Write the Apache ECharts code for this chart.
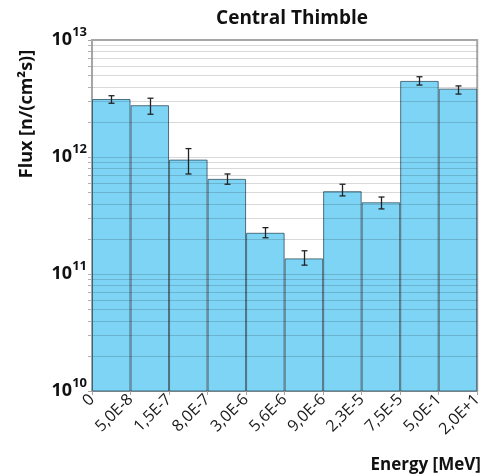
<!DOCTYPE html>
<html>
<head>
<meta charset="utf-8">
<script src="https://cdn.jsdelivr.net/npm/echarts@6/dist/echarts.min.js"></script>
<style>
html,body{margin:0;padding:0;background:#fff;}
#chart{width:485px;height:476px;}
</style>
</head>
<body>
<div id="chart"></div>
<script>
// Data
var binEdges = ['0', '5,0E-8', '1,5E-7', '8,0E-7', '3,0E-6', '5,6E-6', '9,0E-6', '2,3E-5', '7,5E-5', '5,0E-1', '2,0E+1'];
var binIndex = ['b1', 'b2', 'b3', 'b4', 'b5', 'b6', 'b7', 'b8', 'b9', 'b10'];
var flux = [3.13e12, 2.77e12, 9.5e11, 6.5e11, 2.25e11, 1.36e11, 5.1e11, 4.1e11, 4.47e12, 3.84e12];
var fluxLow = [2.88e12, 2.32e12, 7.16e11, 5.85e11, 2.04e11, 1.19e11, 4.65e11, 3.6e11, 4.12e12, 3.45e12];
var fluxHigh = [3.34e12, 3.18e12, 1.18e12, 7.16e11, 2.49e11, 1.58e11, 5.85e11, 4.55e11, 4.85e12, 4.05e12];
var yMin = 1e10, yMax = 1e13;
var gridValues = [];
for (var d = 10; d < 13; d++) {
  for (var m = 1; m <= 9; m++) {
    if (m === 1 && d === 10) continue;
    gridValues.push(m * Math.pow(10, d));
  }
}

var chart = echarts.init(document.getElementById('chart'), null, {renderer: 'canvas'});
var FONT = '"Open Sans", "DejaVu Sans", sans-serif';

var option = {
  animation: false,
  backgroundColor: '#fff',
  title: {
    text: 'Central Thimble',
    left: 287, top: 4, textAlign: 'center',
    textStyle: {fontFamily: FONT, fontSize: 19, fontWeight: 'bold', color: '#111'}
  },
  grid: {
    left: 92, right: 7, top: 40, bottom: 85,
    show: true, borderColor: '#a6a6a6', borderWidth: 2, backgroundColor: 'transparent'
  },
  xAxis: [
    {
      type: 'category', data: binIndex, gridIndex: 0,
      axisLine: {show: false}, axisTick: {show: false}, axisLabel: {show: false},
      splitLine: {show: false}
    },
    {
      type: 'value', min: 0, max: 10, interval: 1, gridIndex: 0, position: 'bottom',
      axisLine: {show: true, lineStyle: {color: '#a6a6a6', width: 2}},
      axisTick: {show: true, length: 4, lineStyle: {color: '#a6a6a6'}},
      splitLine: {show: false},
      axisLabel: {
        rotate: 45, margin: 6, fontFamily: FONT, fontSize: 16, color: '#1a1a1a',
        formatter: function (v) { return binEdges[Math.round(v)]; }
      }
    }
  ],
  yAxis: {
    type: 'log', logBase: 10, min: yMin, max: yMax,
    axisLine: {show: true, lineStyle: {color: '#a6a6a6', width: 2}},
    axisTick: {show: true, length: 4, lineStyle: {color: '#a6a6a6'}},
    splitLine: {show: false},
    axisLabel: {
      margin: 5,
      formatter: function (v) {
        var e = Math.round(Math.log(v) / Math.LN10);
        return '{b|10}{s|' + e + '}';
      },
      rich: {
        b: {fontFamily: FONT, fontSize: 18, fontWeight: 'bold', color: '#111'},
        s: {fontFamily: FONT, fontSize: 13, fontWeight: 'bold', color: '#111', padding: [0, 0, 16, 0]}
      }
    }
  },
  graphic: [
    {
      type: 'text', x: 27, y: 114, rotation: Math.PI / 2,
      style: {text: 'Flux [n/(cm²s)]', fontFamily: FONT, fontSize: 18, fontWeight: 'bold', fill: '#111',
        textAlign: 'center', textVerticalAlign: 'middle'}
    },
    {
      type: 'text', x: 481, y: 465,
      style: {text: 'Energy [MeV]', fontFamily: FONT, fontSize: 17, fontWeight: 'bold', fill: '#111',
        textAlign: 'right', textVerticalAlign: 'middle'}
    }
  ],
  series: [
    {
      type: 'bar', xAxisIndex: 0, yAxisIndex: 0,
      data: flux, barCategoryGap: '0%', z: 2,
      itemStyle: {color: '#7dd4f5', borderColor: 'rgba(40,70,85,0.75)', borderWidth: 1}
    },
    {
      type: 'custom', xAxisIndex: 0, yAxisIndex: 0, z: 3, silent: true, clip: false,
      data: gridValues.map(function (v) { return [0, v]; }),
      encode: {x: 0, y: 1},
      renderItem: function (params, api) {
        var cs = params.coordSys;
        var y = Math.round(api.coord([0, api.value(1)])[1]) + 0.5;
        return {
          type: 'group',
          children: [
            {type: 'line', shape: {x1: cs.x, y1: y, x2: cs.x + cs.width, y2: y},
              style: {stroke: 'rgba(0,0,0,0.15)', lineWidth: 1}},
            {type: 'line', shape: {x1: cs.x - 4, y1: y, x2: cs.x, y2: y},
              style: {stroke: '#b0b0b0', lineWidth: 1}}
          ]
        };
      }
    },
    {
      type: 'custom', xAxisIndex: 0, yAxisIndex: 0, z: 4, silent: true,
      data: flux.map(function (v, i) { return [i, fluxLow[i], fluxHigh[i]]; }),
      encode: {x: 0, y: [1, 2]},
      renderItem: function (params, api) {
        var i = api.value(0);
        var pHi = api.coord([i, api.value(2)]);
        var pLo = api.coord([i, api.value(1)]);
        var x = Math.round(pHi[0]) + 0.5;
        var c = 3;
        var st = {stroke: '#222', lineWidth: 1.3};
        return {
          type: 'group',
          children: [
            {type: 'line', shape: {x1: x, y1: pHi[1], x2: x, y2: pLo[1]}, style: st},
            {type: 'line', shape: {x1: x - c, y1: pHi[1], x2: x + c, y2: pHi[1]}, style: st},
            {type: 'line', shape: {x1: x - c, y1: pLo[1], x2: x + c, y2: pLo[1]}, style: st}
          ]
        };
      }
    }
  ]
};
chart.setOption(option);
</script>
</body>
</html>
